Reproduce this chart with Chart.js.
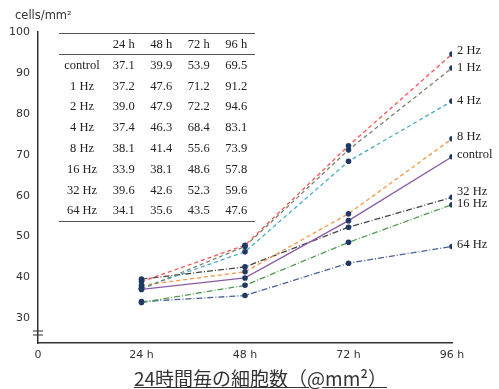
<!DOCTYPE html>
<html>
<head>
<meta charset="utf-8">
<script src="https://cdn.jsdelivr.net/npm/chart.js@4"></script>
<style>
  body { margin: 0; background: #fff; }
  #wrap { position: relative; width: 499px; height: 389px; overflow: hidden; }
  #ylab { position: absolute; left: 15px; top: 8px; font: 11.5px "DejaVu Sans", sans-serif; color: #333; }
  #tbl { position: absolute; left: 59px; top: 33px; width: 196px; border-collapse: collapse;
         font: 12.5px "Liberation Serif", serif; color: #222; }
  #tbl td { height: 20.8px; padding: 0; text-align: center; white-space: nowrap; }
  #tbl tr.head td { height: 20px; border-bottom: 1px solid #555; }
  #tbl tr.head { border-top: 1.5px solid #555; }
  #tbl tr.last td { border-bottom: 1.5px solid #555; }
  #title { position: absolute; left: 0; width: 521px; top: 364px; line-height: 22px; text-align: center;
           font: 19px "Noto Sans CJK JP", sans-serif; color: #333; text-decoration: underline; }
</style>
</head>
<body>
<div id="wrap">
  <canvas id="chart" width="499" height="389"></canvas>
  <div id="ylab">cells/mm²</div>
  <table id="tbl"></table>
  <div id="title">24時間毎の細胞数（@mm²）</div>
</div>
<script>
// ── datos ─────────────
const hours      = [24, 48, 72, 96];
const hourLabels = ['24 h', '48 h', '72 h', '96 h'];
const yTicks     = [30, 40, 50, 60, 70, 80, 90, 100];

const names   = ['control', '1 Hz', '2 Hz', '4 Hz', '8 Hz', '16 Hz', '32 Hz', '64 Hz'];
const control = [37.1, 39.9, 53.9, 69.5];
const hz1     = [37.2, 47.6, 71.2, 91.2];
const hz2     = [39.0, 47.9, 72.2, 94.6];
const hz4     = [37.4, 46.3, 68.4, 83.1];
const hz8     = [38.1, 41.4, 55.6, 73.9];
const hz16    = [33.9, 38.1, 48.6, 57.8];
const hz32    = [39.6, 42.6, 52.3, 59.6];
const hz64    = [34.1, 35.6, 43.5, 47.6];
const values  = [control, hz1, hz2, hz4, hz8, hz16, hz32, hz64];

// estilos por serie
const colors = ['#8a5ca6', '#76856a', '#ff5252', '#4bacc6', '#f79646', '#4e9a4e', '#444444', '#4a5f9a'];
const dashes = [[], [4, 3], [4, 3], [4, 3], [4, 3], [6, 2, 1, 2], [6, 2, 1, 2], [6, 2, 1, 2]];
const labelDy = [-2, 0, -3, 0, -2, -1, -6, -2];

// ── tabla ─────────────
(function () {
    const tbl = document.getElementById('tbl');
    let html = '<tr class="head"><td style="width:46px"></td>' +
        hourLabels.map(h => `<td>${h}</td>`).join('') + '</tr>';
    names.forEach((n, i) => {
        const cls = i === names.length - 1 ? ' class="last"' : '';
        html += `<tr${cls}><td>${n}</td>` + values[i].map(v => `<td>${v.toFixed(1)}</td>`).join('') + '</tr>';
    });
    tbl.innerHTML = html;
})();

// ── gráfico ─────────────
const endLabels = {
    id: 'endLabels',
    afterDatasetsDraw(chart) {
        const ctx = chart.ctx;
        ctx.save();
        ctx.font = '12.5px "Liberation Serif", serif';
        ctx.fillStyle = '#222';
        ctx.textBaseline = 'middle';
        chart.data.datasets.forEach((ds, i) => {
            const pts = chart.getDatasetMeta(i).data;
            const p = pts[pts.length - 1];
            ctx.fillText(ds.label, p.x + 5, p.y + labelDy[i]);
        });
        ctx.restore();
    }
};

const axisBreak = {
    id: 'axisBreak',
    afterDraw(chart) {
        const ctx = chart.ctx;
        const x = chart.chartArea.left;
        const y = chart.chartArea.bottom - 10;
        ctx.save();
        ctx.strokeStyle = '#333';
        ctx.lineWidth = 1.2;
        ctx.beginPath();
        ctx.moveTo(x - 5, y - 2); ctx.lineTo(x + 5, y - 2);
        ctx.moveTo(x - 5, y + 2); ctx.lineTo(x + 5, y + 2);
        ctx.stroke();
        ctx.restore();
    }
};

new Chart(document.getElementById('chart'), {
    type: 'line',
    data: {
        datasets: names.map((n, i) => ({
            label: n,
            data: values[i].map((v, j) => ({ x: hours[j], y: v })),
            borderColor: colors[i],
            borderDash: dashes[i],
            borderWidth: 1.3,
            pointRadius: 2.8,
            pointBackgroundColor: '#1f3864',
            pointBorderColor: '#1f3864',
            pointBorderWidth: 0,
            tension: 0,
            fill: false
        }))
    },
    options: {
        responsive: false,
        animation: false,
        layout: { padding: { top: 32, right: 47, left: 0, bottom: 0 } },
        scales: {
            x: {
                type: 'linear',
                min: 0,
                max: 96,
                grid: { display: false, tickLength: 0 },
                border: { color: '#333', width: 1.5 },
                afterBuildTicks: (s) => { s.ticks = [0].concat(hours).map(v => ({ value: v })); },
                afterFit: (s) => { s.height = 46; },
                ticks: {
                    padding: 6,
                    color: '#333',
                    font: { family: 'DejaVu Sans', size: 11 },
                    callback: (v) => v === 0 ? '0' : hourLabels[hours.indexOf(v)]
                }
            },
            y: {
                min: 24,
                max: 100,
                grid: { display: false, tickLength: 0 },
                border: { color: '#333', width: 1.5 },
                afterBuildTicks: (s) => { s.ticks = yTicks.map(v => ({ value: v })); },
                afterFit: (s) => { s.width = 38; },
                ticks: {
                    padding: 8,
                    color: '#333',
                    font: { family: 'DejaVu Sans', size: 11 }
                }
            }
        },
        plugins: {
            legend: { display: false },
            tooltip: { enabled: false }
        }
    },
    plugins: [endLabels, axisBreak]
});
</script>
</body>
</html>
